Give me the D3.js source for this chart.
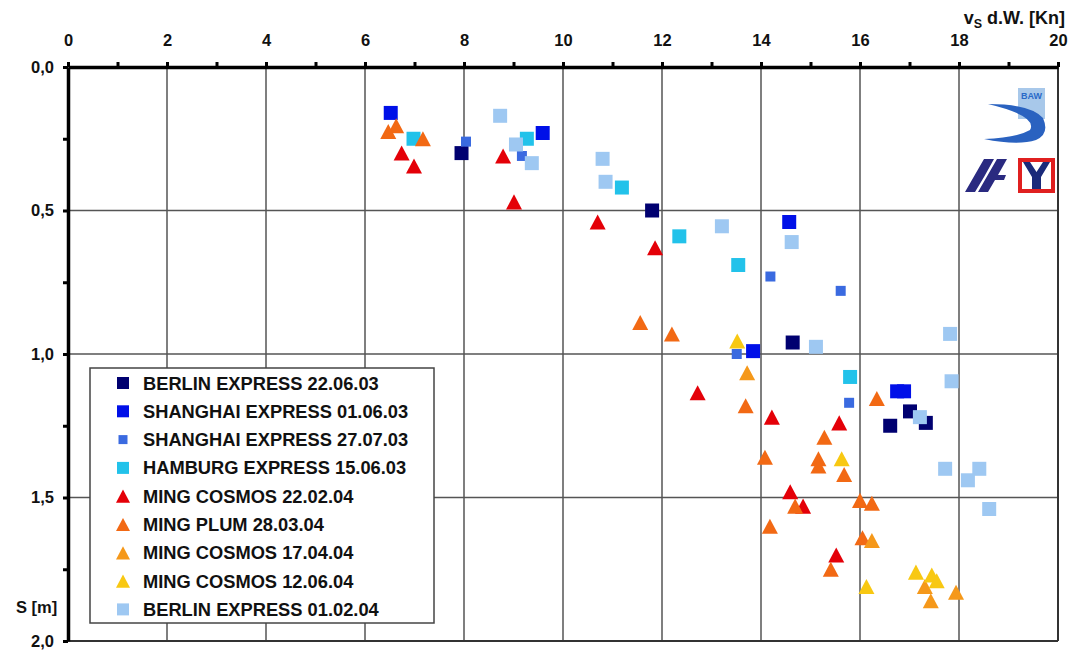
<!DOCTYPE html>
<html>
<head>
<meta charset="utf-8">
<script src="https://cdn.jsdelivr.net/npm/d3@7"></script>
<style>
  html, body { margin: 0; padding: 0; background: #fff; }
  svg { display: block; font-family: "Liberation Sans", Arial, sans-serif; }
  text { font-weight: 700; }
</style>
</head>
<body>
<svg id="chart" width="1075" height="650"></svg>
<script>
// Ship speed through water (kn) vs. squat S (m)
const seriesNames = [
  "BERLIN EXPRESS 22.06.03",
  "SHANGHAI EXPRESS 01.06.03",
  "SHANGHAI EXPRESS 27.07.03",
  "HAMBURG EXPRESS 15.06.03",
  "MING COSMOS 22.02.04",
  "MING PLUM 28.03.04",
  "MING COSMOS 17.04.04",
  "MING COSMOS 12.06.04",
  "BERLIN EXPRESS 01.02.04"
];

const berlin220603 = [[7.95,0.30],[11.80,0.50],[14.64,0.96],[17.01,1.20],[17.33,1.24],[16.61,1.25]];
const shanghai010603 = [[6.52,0.16],[9.59,0.23],[14.57,0.54],[13.84,0.99],[16.75,1.13],[16.89,1.13]];
const shanghai270703 = [[8.04,0.26],[9.17,0.31],[14.19,0.73],[15.61,0.78],[13.51,1.00],[15.78,1.17]];
const hamburg150603 = [[6.98,0.25],[9.27,0.25],[11.19,0.42],[12.35,0.59],[13.54,0.69],[15.80,1.08]];
const mingCosmos220204 = [[6.74,0.30],[6.99,0.345],[8.79,0.31],[9.01,0.47],[10.70,0.54],[11.86,0.63],
  [12.72,1.135],[14.22,1.22],[15.58,1.24],[14.59,1.48],[14.85,1.53],[15.52,1.70]];
const mingPlum280304 = [[6.63,0.205],[6.47,0.225],[7.17,0.25],[11.56,0.89],[12.20,0.93],[13.69,1.18],
  [16.34,1.155],[15.28,1.29],[14.08,1.36],[15.16,1.365],[15.16,1.39],[15.68,1.42],[14.69,1.53],
  [16.00,1.51],[16.24,1.52],[14.18,1.60],[16.05,1.64],[15.41,1.75]];
const mingCosmos170404 = [[13.72,1.065],[16.24,1.65],[17.31,1.81],[17.43,1.86],[17.94,1.83]];
const mingCosmos120604 = [[13.52,0.955],[15.63,1.365],[16.13,1.81],[17.13,1.76],[17.45,1.77],[17.55,1.79]];
const berlin010204 = [[8.73,0.17],[9.05,0.27],[9.37,0.335],[10.80,0.32],[10.86,0.40],[13.21,0.555],
  [14.62,0.61],[15.11,0.975],[17.82,0.93],[17.85,1.095],[17.21,1.22],[17.72,1.40],[18.41,1.40],
  [18.18,1.44],[18.61,1.54]];

const seriesValues = [berlin220603, shanghai010603, shanghai270703, hamburg150603, mingCosmos220204,
  mingPlum280304, mingCosmos170404, mingCosmos120604, berlin010204];

const xTickLabels = [0, 2, 4, 6, 8, 10, 12, 14, 16, 18, 20];
const yTickLabels = [0, 0.5, 1.0, 1.5, 2.0];

// marker style per series
const styles = [
  { shape: "square", size: 14, color: "#000070" },
  { shape: "square", size: 14, color: "#0010e8" },
  { shape: "square", size: 10, color: "#3a6ae0" },
  { shape: "square", size: 14, color: "#22c2ea" },
  { shape: "triangle", size: 16, color: "#e40008" },
  { shape: "triangle", size: 16, color: "#f26914" },
  { shape: "triangle", size: 16, color: "#f5981a" },
  { shape: "triangle", size: 16, color: "#f8c812" },
  { shape: "square", size: 14, color: "#9ec8f2" }
];

const svg = d3.select("#chart");
const plotL = 68, plotR = 1058, plotT = 67, plotB = 641;
const x = d3.scaleLinear().domain([0, 20]).range([plotL, plotR]);
const y = d3.scaleLinear().domain([0, 2]).range([plotT, plotB]);

svg.append("rect").attr("width", 1075).attr("height", 650).attr("fill", "#fff");

// grid
const grid = svg.append("g");
grid.selectAll("line.v").data(d3.range(2, 20, 2)).join("line").attr("class", "v")
  .attr("x1", d => x(d)).attr("x2", d => x(d))
  .attr("y1", plotT).attr("y2", plotB)
  .attr("stroke", "#555").attr("stroke-width", 1.5);
grid.selectAll("line.h").data([0.5, 1.0, 1.5]).join("line").attr("class", "h")
  .attr("x1", plotL).attr("x2", plotR)
  .attr("y1", d => y(d)).attr("y2", d => y(d))
  .attr("stroke", "#555").attr("stroke-width", 1.5);
// right and bottom frame
svg.append("line").attr("x1", plotR).attr("x2", plotR).attr("y1", plotT).attr("y2", plotB)
  .attr("stroke", "#333").attr("stroke-width", 2);
svg.append("line").attr("x1", plotL).attr("x2", plotR).attr("y1", plotB).attr("y2", plotB)
  .attr("stroke", "#333").attr("stroke-width", 2);

const labelFont = "Liberation Sans, Arial, sans-serif";

// top axis
const xAxis = d3.axisTop(x).tickValues(d3.range(0, 21, 1)).tickSize(5).tickSizeOuter(0)
  .tickFormat(d => (xTickLabels.includes(d) ? d : ""));
const gx = svg.append("g").attr("transform", `translate(0,${plotT})`).call(xAxis);
gx.select(".domain").attr("stroke", "#000").attr("stroke-width", 3.5);
gx.selectAll(".tick line").attr("stroke", "#000").attr("stroke-width", 3);
gx.selectAll(".tick text").attr("font-size", 16.5).attr("font-family", labelFont)
  .attr("fill", "#111").attr("y", -21);

// left axis
const yAxis = d3.axisLeft(y).tickValues(d3.range(0, 2.01, 0.25)).tickSize(5).tickSizeOuter(0)
  .tickFormat(d => (yTickLabels.some(v => Math.abs(v - d) < 1e-9) ? d3.format(".1f")(d).replace(".", ",") : ""));
const gy = svg.append("g").attr("transform", `translate(${plotL},0)`).call(yAxis);
gy.select(".domain").attr("stroke", "#000").attr("stroke-width", 3.5);
gy.selectAll(".tick line").attr("stroke", "#000").attr("stroke-width", 3);
gy.selectAll(".tick text").attr("font-size", 16.5).attr("font-family", labelFont)
  .attr("fill", "#111").attr("x", -14);

// axis titles
const xt = svg.append("text").attr("x", 1065).attr("y", 24).attr("text-anchor", "end")
  .attr("font-size", 18).attr("fill", "#111");
xt.append("tspan").text("v");
xt.append("tspan").attr("font-size", 12.5).attr("dy", 4).text("S");
xt.append("tspan").attr("dy", -4).text(" d.W. [Kn]");
svg.append("text").attr("x", 16).attr("y", 613).attr("font-size", 16.5)
  .attr("fill", "#111").text("S [m]");

// marker drawing
function markerPath(shape, s) {
  if (shape === "square") {
    const h = s / 2;
    return `M${-h},${-h}H${h}V${h}H${-h}Z`;
  }
  const w = s / 2, hh = s * 0.47;
  return `M0,${-hh}L${w},${hh}L${-w},${hh}Z`;
}

// legend
const lg = svg.append("g");
lg.append("rect").attr("x", 90).attr("y", 368).attr("width", 344).attr("height", 255)
  .attr("fill", "#fff").attr("stroke", "#444").attr("stroke-width", 1.5);
seriesNames.forEach((name, i) => {
  const yy = 383 + i * 28.3;
  const st = styles[i];
  lg.append("path").attr("d", markerPath(st.shape, st.shape === "triangle" ? 14 : st.size === 10 ? 9 : 12))
    .attr("transform", `translate(123,${yy})`).attr("fill", st.color);
  lg.append("text").attr("x", 143).attr("y", yy + 6.5).attr("font-size", 18.3)
    .attr("fill", "#111").text(name);
});

// points
seriesValues.forEach((vals, i) => {
  const st = styles[i];
  svg.append("g").selectAll("path").data(vals).join("path")
    .attr("d", markerPath(st.shape, st.size))
    .attr("transform", d => `translate(${x(d[0])},${y(d[1])})`)
    .attr("fill", st.color);
});

// logos
const logo = svg.append("g");
logo.append("rect").attr("x", 1018).attr("y", 88).attr("width", 27).attr("height", 31).attr("fill", "#a8c8ea");
logo.append("text").attr("x", 1031.5).attr("y", 99).attr("text-anchor", "middle").attr("font-size", 9)
  .attr("fill", "#2a6ac8").text("BAW");
logo.append("path")
  .attr("d", "M988,104 Q1030,104 1043,118 Q1050,134 1036,140 Q1018,146 984,139 Q1016,138 1030,130 Q1038,116 988,104 Z")
  .attr("fill", "#2a62c0");
logo.append("path")
  .attr("d", "M984,159 L994,159 L984,177 L975,192 L965,192 Z M997,159 L1007,159 L998,175 L1006,175 L1004,180 L995,180 L988,192 L978,192 Z")
  .attr("fill", "#2a2a80");
logo.append("rect").attr("x", 1018).attr("y", 158).attr("width", 37).attr("height", 35).attr("fill", "#e02020");
logo.append("rect").attr("x", 1022).attr("y", 162).attr("width", 29).attr("height", 27).attr("fill", "#fff");
logo.append("path")
  .attr("d", "M1023,162 L1030,162 L1036.5,172 L1043,162 L1050,162 L1041,177 L1041,189 L1032,189 L1032,177 Z")
  .attr("fill", "#1a2a7a");
</script>
</body>
</html>
